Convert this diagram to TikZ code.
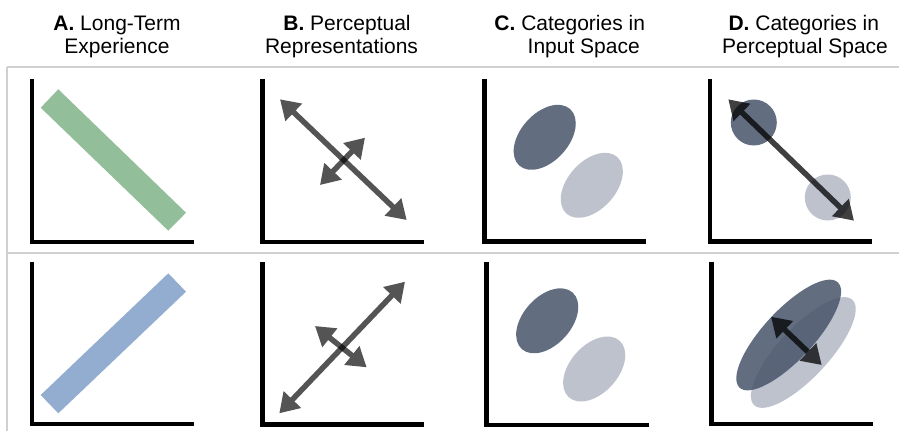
\documentclass[tikz,border=0pt]{standalone}
\usepackage{fontspec}
\setmainfont{Liberation Sans}
\usetikzlibrary{arrows.meta}
\definecolor{framegray}{RGB}{210,207,207}
\definecolor{bargreen}{RGB}{146,190,154}
\definecolor{barblue}{RGB}{146,173,207}
\definecolor{catdark}{RGB}{72,84,106}
\definecolor{catlight}{RGB}{190,194,204}
\tikzset{
  gridline/.style={draw=framegray, line width=2pt},
  axisline/.style={draw=black, line width=4.5pt, line join=miter},
  heading/.style={font=\fontsize{21}{25}\selectfont, anchor=base, inner sep=0pt},
  twohead/.style={draw=black, fill=black, line width=5.5pt,
    {Triangle[length=19pt,width=23pt]}-{Triangle[length=19pt,width=23pt]}},
  darkcat/.style={fill=catdark, fill opacity=0.85},
  lightcat/.style={fill=catlight},
}
% L-shaped pair of axes: x of vertical axis, its top, the baseline, right end
\newcommand\plotaxes[4]{\draw[axisline] (#1,#2) -- (#1,#3) -- (#4,#3);}
% rotated ellipse: style, centre x, centre y, angle, semi-axes
\newcommand\tiltell[6]{\fill[#1, rotate around={#4:(#2,#3)}] (#2,#3) ellipse [x radius=#5pt, y radius=#6pt];}
% semi-transparent double-headed arrow between two named coordinates
\newcommand\twoway[3]{\begin{scope}[transparency group, opacity=#1]\draw[twohead] (#2) -- (#3);\end{scope}}
\begin{document}
\begin{tikzpicture}[x=1pt, y=-1pt]
\useasboundingbox (0,0) rectangle (899,431);

% column headings
\node[heading] (ha1) at (117,30)   {\textbf{A.} Long-Term};
\node[heading] (ha2) at (117,53)   {Experience};
\node[heading] (hb1) at (347,30)   {\textbf{B.} Perceptual};
\node[heading] (hb2) at (341.5,53) {Representations};
\node[heading] (hc1) at (569.7,30) {\textbf{C.} Categories in};
\node[heading] (hc2) at (583.7,53) {Input Space};
\node[heading] (hd1) at (803.8,30) {\textbf{D.} Categories in};
\node[heading] (hd2) at (805,53)   {Perceptual Space};

% table rules
\draw[gridline] (7,66.5) -- (899,66.5);
\draw[gridline] (7,253.3) -- (899,253.3);
\draw[gridline] (7,66.5) -- (7,431);

% A: long-term experience bars
\fill[bargreen] (40.7,107.7) -- (58.3,89.3) -- (186,212.7) -- (168.3,230.7) -- cycle;
\fill[barblue] (40.7,395) -- (58.3,413.3) -- (186,291.7) -- (168.3,273.3) -- cycle;
\plotaxes{32}{79}{242}{194}
\plotaxes{32}{261.7}{424}{194}

% B: perceptual representations
\plotaxes{262.3}{79}{242}{424}
\plotaxes{262.3}{262}{424.3}{424}
\coordinate (b1a) at (280,99.3);
\coordinate (b1b) at (406.7,220);
\coordinate (b2a) at (365,137.7);
\coordinate (b2b) at (320,185);
\twoway{0.67}{b1a}{b1b}
\twoway{0.67}{b2a}{b2b}
\coordinate (b3a) at (405,281.7);
\coordinate (b3b) at (279.3,413.3);
\coordinate (b4a) at (315,326);
\coordinate (b4b) at (366.7,367.3);
\twoway{0.67}{b3a}{b3b}
\twoway{0.67}{b4a}{b4b}

% C: categories in input space
\plotaxes{484.3}{79}{241.7}{646}
\plotaxes{486.7}{261.7}{425}{649}
\tiltell{darkcat}{544.7}{137.3}{48}{38}{24}
\tiltell{lightcat}{591.8}{185.3}{48}{38}{24}
\tiltell{darkcat}{547.2}{320.8}{48}{38}{24}
\tiltell{lightcat}{594.2}{369}{48}{38}{24}

% D: categories in perceptual space
\plotaxes{710}{79}{241.7}{871.7}
\plotaxes{711.7}{261.7}{424}{873.3}
\fill[darkcat] (753.8,122.5) circle [radius=23pt];
\fill[lightcat] (827.8,197.5) circle [radius=23pt];
\coordinate (d1a) at (728.3,99.3);
\coordinate (d1b) at (854,220.7);
\twoway{0.75}{d1a}{d1b}
\tiltell{lightcat}{803.3}{352.5}{47}{72}{25}
\tiltell{darkcat}{788.7}{335}{47}{72}{25}
\coordinate (d2a) at (771,316.7);
\coordinate (d2b) at (821.7,365);
\twoway{0.75}{d2a}{d2b}
\end{tikzpicture}
\end{document}
